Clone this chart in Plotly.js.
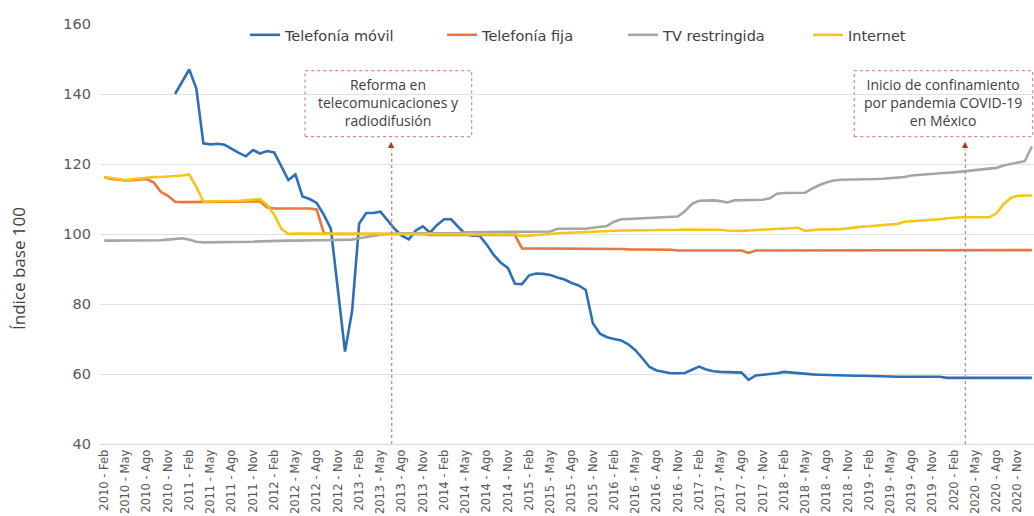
<!DOCTYPE html>
<html>
<head>
<meta charset="utf-8">
<script src="https://cdn.plot.ly/plotly-3.0.1.min.js"></script>
<style>html,body{margin:0;padding:0;background:#fff;}#chart{width:1034px;height:516px;}</style>
</head>
<body>
<div id="chart"></div>
<script>
// ---- Data ----
const monthNames = ["Ene","Feb","Mar","Abr","May","Jun","Jul","Ago","Sep","Oct","Nov","Dic"];
const startYear = 2010;
const startMonth = 1;   // Feb
const nMonths = 132;    // 2010 - Feb ... 2021 - Ene

const seriesNames = ["Telefonía móvil", "Telefonía fija", "TV restringida", "Internet"];

const telefoniaMovil = [
  null,null,null,null,null,null,null,null,null,null,
  140,143.5,147,141.6,125.9,125.6,125.8,125.5,124.3,123.2,
  122.2,124,123,123.7,123.3,119.5,115.4,117,110.7,110,
  108.9,105.5,101.5,84,66.4,78,103,106,106,106.4,
  104,101.5,99.5,98.5,101,102.2,100.4,102.6,104.2,104.2,
  102,100,99.5,99.5,97,94,91.8,90.3,85.8,85.7,
  88.2,88.7,88.6,88.3,87.6,87,86,85.3,84,74.5,
  71.5,70.5,70,69.6,68.5,66.8,64.5,62,61,60.5,
  60.2,60.2,60.3,61.2,62.1,61.3,60.8,60.6,60.5,60.5,
  60.4,58.3,59.6,59.8,59.9,60.2,60.6,60.4,60.1,60,
  59.9,59.8,59.7,59.6,59.6,59.5,59.5,59.5,59.5,59.4,
  59.3,59.3,59.2,59.2,59.2,59.2,59.2,59.2,59.2,58.9,
  58.9,58.9,58.9,58.9,58.9,58.9,58.9,58.9,58.9,58.9,
  58.9,58.9
];

const telefoniaFija = [
  116.2,115.7,115.5,115.3,115.4,115.6,115.7,114.7,112,110.9,
  109.2,109.1,109.1,109.1,109.1,109.1,109.2,109.2,109.2,109.2,
  109.2,109.3,109.3,107.6,107.3,107.3,107.3,107.3,107.3,107.3,
  107,100.3,100,100,100,100,100,100,100,100,
  100,100,100,100,100,100,99.7,99.7,99.7,99.7,
  99.7,99.7,99.7,99.7,99.7,99.7,99.7,99.7,99.7,95.9,
  95.9,95.9,95.9,95.8,95.8,95.8,95.8,95.8,95.8,95.7,
  95.7,95.7,95.7,95.7,95.6,95.6,95.6,95.6,95.6,95.5,
  95.5,95.3,95.3,95.3,95.3,95.3,95.3,95.3,95.3,95.3,
  95.3,94.6,95.3,95.3,95.3,95.3,95.3,95.3,95.3,95.3,
  95.3,95.3,95.3,95.3,95.3,95.3,95.3,95.4,95.4,95.4,
  95.4,95.4,95.4,95.4,95.4,95.4,95.4,95.4,95.4,95.4,
  95.4,95.4,95.4,95.4,95.4,95.4,95.4,95.4,95.4,95.4,
  95.4,95.4
];

const tvRestringida = [
  98.1,98.1,98.2,98.2,98.2,98.2,98.3,98.3,98.2,98.4,
  98.5,98.8,98.4,97.8,97.6,97.6,97.6,97.6,97.6,97.6,
  97.6,97.8,97.9,98,98,98,98.1,98.1,98.2,98.2,
  98.2,98.2,98.2,98.2,98.3,98.4,98.8,99.2,99.5,99.8,
  100,100.2,100.2,100.2,100.2,100.2,100.2,100.2,100.2,100.2,
  100.2,100.5,100.5,100.5,100.5,100.5,100.5,100.5,100.5,100.7,
  100.7,100.7,100.7,100.7,101.5,101.5,101.5,101.5,101.5,101.8,
  102,102.3,103.5,104.2,104.3,104.4,104.5,104.5,104.6,104.7,
  104.8,105,106.5,108.6,109.5,109.6,109.6,109.4,109,109.6,
  109.7,109.7,109.8,109.8,110.2,111.5,111.7,111.7,111.8,111.8,
  113,114,114.7,115.3,115.5,115.5,115.6,115.6,115.6,115.7,
  115.8,115.9,116,116.3,116.7,116.9,117,117.2,117.4,117.5,
  117.6,117.8,118,118.2,118.4,118.6,118.9,119.6,120,120.4,
  120.8,125
];

const internet = [
  116.3,116,115.6,115.4,115.6,115.8,116.2,116.3,116.3,116.4,
  116.5,116.7,117,113.5,109.3,109.3,109.4,109.4,109.5,109.5,
  109.6,109.8,110,108.3,105.5,101.5,100,100.1,100.1,100.1,
  100.1,100.1,100.1,100.1,100.1,100.1,100.1,100.1,100.1,100.1,
  100.1,99.9,99.9,99.9,99.9,99.9,99.9,99.9,99.9,99.9,
  99.9,99.9,99.9,99.9,99.9,99.9,99.9,99.9,99.9,99.4,
  99.5,99.7,99.9,100,100.2,100.3,100.5,100.6,100.7,100.8,
  100.8,100.9,100.9,101,101,101,101.1,101.1,101.1,101.2,
  101.2,101.2,101.3,101.3,101.3,101.3,101.3,101.2,101,100.9,
  100.9,101,101.1,101.2,101.3,101.4,101.5,101.6,101.8,100.9,
  101.2,101.3,101.3,101.3,101.4,101.6,101.9,102.1,102.2,102.4,
  102.6,102.9,102.9,103.5,103.6,103.7,103.8,104,104.2,104.5,
  104.7,104.8,104.8,104.8,104.8,104.8,105.9,108.5,110.3,110.9,
  111,111
];

const yTicks = [40, 60, 80, 100, 120, 140, 160];
const yTitle = "Índice base 100";
const eventLabels = [
  "Reforma en<br>telecomunicaciones y<br>radiodifusión",
  "Inicio de confinamiento<br>por pandemia COVID-19<br>en México"
];
const eventMonths = ["2013 - Jun", "2020 - Mar"];

// ---- Categories ----
const categories = [];
for (let i = 0; i < nMonths; i++) {
  const m = startMonth + i;
  categories.push((startYear + Math.floor(m / 12)) + " - " + monthNames[m % 12]);
}
const tickCats = categories.filter((c, i) => i % 3 === 0);

const colors = ["#2e70b6", "#e8793a", "#a6a6a6", "#f5c518"];
const values = [telefoniaMovil, telefoniaFija, tvRestringida, internet];
const legendIds = ["legend", "legend2", "legend3", "legend4"];

const traces = values.map((v, k) => ({
  type: "scatter", mode: "lines", x: categories, y: v, name: seriesNames[k],
  line: { color: colors[k], width: 2.6 }, legend: legendIds[k],
  connectgaps: false, hoverinfo: "skip"
}));

const evIdx = eventMonths.map(c => categories.indexOf(c) + 0.6);

const legendBase = (x) => ({
  x: x, y: 0.974, xanchor: "left", yanchor: "middle", orientation: "h",
  bgcolor: "rgba(0,0,0,0)", font: { family: "DejaVu Sans", size: 14.5, color: "#404040" }
});

const boxes = [[0.2195, 0.3979], [0.8076, 0.9985]];
const shapes = [];
const annotations = [];
boxes.forEach((b, k) => {
  shapes.push({ type: "rect", xref: "paper", yref: "paper", x0: b[0], x1: b[1], y0: 0.7317, y1: 0.8888,
    line: { color: "#d98c8c", width: 1.2, dash: "dot" }, fillcolor: "rgba(255,255,255,0)" });
  shapes.push({ type: "line", xref: "x", yref: "paper", x0: evIdx[k], x1: evIdx[k], y0: 0, y1: 0.703,
    line: { color: "#c97b7b", width: 1.2, dash: "dot" } });
  annotations.push({ xref: "paper", yref: "paper", x: (b[0] + b[1]) / 2, y: 0.812, text: eventLabels[k],
    showarrow: false, xanchor: "center", yanchor: "middle",
    font: { family: "Open Sans", size: 14, color: "#404040" } });
  annotations.push({ xref: "x", yref: "paper", x: evIdx[k], y: 0.714, text: "▲", showarrow: false,
    xanchor: "center", yanchor: "middle", font: { size: 8, color: "#c0282d" } });
});
annotations.push({ xref: "paper", yref: "paper", x: -0.0878, y: 0.419, text: yTitle, textangle: -90,
  showarrow: false, xanchor: "center", yanchor: "middle",
  font: { family: "Open Sans", size: 17, color: "#404040" } });

const layout = {
  width: 1034, height: 516,
  margin: { l: 100, r: 0, t: 24, b: 72 },
  paper_bgcolor: "#ffffff", plot_bgcolor: "#ffffff",
  font: { family: "DejaVu Sans", color: "#404040" },
  showlegend: true,
  legend: legendBase(0.1552),
  legend2: legendBase(0.3662),
  legend3: legendBase(0.5600),
  legend4: legendBase(0.7580),
  xaxis: {
    type: "category", range: [-0.6, 131.3], tickmode: "array", tickvals: tickCats, ticktext: tickCats,
    tickangle: -90, tickfont: { family: "DejaVu Sans", size: 11.5, color: "#595959" },
    showgrid: false, showline: true, linecolor: "#d9d9d9", linewidth: 1, ticks: "", zeroline: false
  },
  yaxis: {
    range: [40, 160], tickmode: "array", tickvals: yTicks,
    tickfont: { family: "DejaVu Sans", size: 14.5, color: "#595959" },
    showgrid: true, gridcolor: "#e2e2e2", gridwidth: 1, zeroline: false, showline: false, ticks: "",
    ticklabelstandoff: 8
  },
  shapes: shapes,
  annotations: annotations
};

Plotly.newPlot("chart", traces, layout, { displayModeBar: false, staticPlot: true });
</script>
</body>
</html>
